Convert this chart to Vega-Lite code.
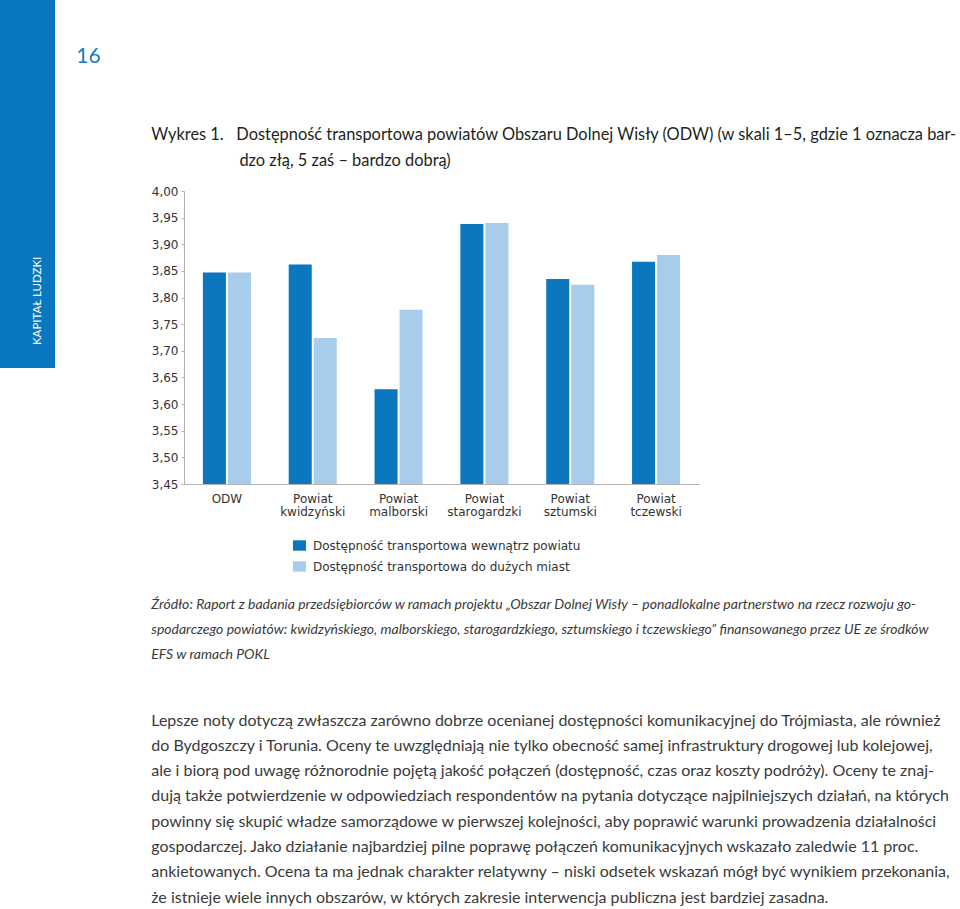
{
  "$schema": "https://vega.github.io/schema/vega-lite/v6.json",
  "padding": 0,
  "background": "#ffffff",
  "config": {
    "view": {"stroke": null},
    "font": "DejaVu Sans"
  },
  "spacing": 50,
  "hconcat": [
    {
      "width": 55,
      "height": 368,
      "view": {"fill": "#0a78c0", "stroke": null},
      "layer": [
        {
          "data": {"values": [{"sekcja": "KAPITAŁ LUDZKI"}]},
          "mark": {"type": "text", "angle": 270, "align": "left", "baseline": "middle", "dx": -161, "dy": 10.5, "color": "#ffffff", "font": "Lato", "fontSize": 11.5},
          "encoding": {"text": {"field": "sekcja", "type": "nominal"}}
        },
        {
          "data": {"values": [{"strona": "16"}]},
          "mark": {"type": "text", "align": "center", "baseline": "middle", "dx": 61, "dy": -127, "color": "#1a7bc0", "font": "Lato", "fontSize": 21},
          "encoding": {"text": {"field": "strona", "type": "nominal"}}
        }
      ]
    },
    {
      "spacing": 0,
      "title": {
        "text": [
          "Źródło: Raport z badania przedsiębiorców w ramach projektu „Obszar Dolnej Wisły – ponadlokalne partnerstwo na rzecz rozwoju go-",
          "spodarczego powiatów: kwidzyńskiego, malborskiego, starogardzkiego, sztumskiego i tczewskiego” finansowanego przez UE ze środków",
          "EFS w ramach POKL"
        ],
        "subtitle": [
          "Lepsze noty dotyczą zwłaszcza zarówno dobrze ocenianej dostępności komunikacyjnej do Trójmiasta, ale również",
          "do Bydgoszczy i Torunia. Oceny te uwzględniają nie tylko obecność samej infrastruktury drogowej lub kolejowej,",
          "ale i biorą pod uwagę różnorodnie pojętą jakość połączeń (dostępność, czas oraz koszty podróży). Oceny te znaj-",
          "dują także potwierdzenie w odpowiedziach respondentów na pytania dotyczące najpilniejszych działań, na których",
          "powinny się skupić władze samorządowe w pierwszej kolejności, aby poprawić warunki prowadzenia działalności",
          "gospodarczej. Jako działanie najbardziej pilne poprawę połączeń komunikacyjnych wskazało zaledwie 11 proc.",
          "ankietowanych. Ocena ta ma jednak charakter relatywny – niski odsetek wskazań mógł być wynikiem przekonania,",
          "że istnieje wiele innych obszarów, w których zakresie interwencja publiczna jest bardziej zasadna."
        ],
        "orient": "bottom",
        "anchor": "start",
        "font": "Lato",
        "fontSize": 14,
        "fontStyle": "italic",
        "fontWeight": "normal",
        "color": "#3a3a3a",
        "lineHeight": 25,
        "subtitleFont": "Lato",
        "subtitleFontSize": 16,
        "subtitleColor": "#3a3a3a",
        "subtitleLineHeight": 25.3,
        "subtitlePadding": 51,
        "offset": 80
      },
      "vconcat": [
        {
          "width": 1,
          "height": 126,
          "data": {"values": []},
          "mark": "text",
          "encoding": {}
        },
        {
          "width": 515,
          "height": 293,
          "title": {
            "text": [
              "Wykres 1.\u00a0\u00a0\u00a0Dostępność transportowa powiatów Obszaru Dolnej Wisły (ODW) (w skali 1–5, gdzie 1 oznacza bar-",
              "\u200b\u00a0\u00a0\u00a0\u00a0\u00a0\u00a0\u00a0\u00a0\u00a0\u00a0\u00a0\u00a0\u00a0\u00a0\u00a0\u00a0\u00a0\u00a0\u00a0\u00a0\u00a0dzo złą, 5 zaś – bardzo dobrą)"
            ],
            "anchor": "start",
            "font": "Lato",
            "fontSize": 16.4,
            "fontWeight": "normal",
            "color": "#231f20",
            "lineHeight": 26,
            "offset": 16
          },
          "data": {
            "values": [
              {"powiat": "ODW", "typ": "Dostępność transportowa wewnątrz powiatu", "ocena": 3.847},
              {"powiat": "ODW", "typ": "Dostępność transportowa do dużych miast", "ocena": 3.847},
              {"powiat": "Powiat kwidzyński", "typ": "Dostępność transportowa wewnątrz powiatu", "ocena": 3.862},
              {"powiat": "Powiat kwidzyński", "typ": "Dostępność transportowa do dużych miast", "ocena": 3.724},
              {"powiat": "Powiat malborski", "typ": "Dostępność transportowa wewnątrz powiatu", "ocena": 3.628},
              {"powiat": "Powiat malborski", "typ": "Dostępność transportowa do dużych miast", "ocena": 3.777},
              {"powiat": "Powiat starogardzki", "typ": "Dostępność transportowa wewnątrz powiatu", "ocena": 3.938},
              {"powiat": "Powiat starogardzki", "typ": "Dostępność transportowa do dużych miast", "ocena": 3.940},
              {"powiat": "Powiat sztumski", "typ": "Dostępność transportowa wewnątrz powiatu", "ocena": 3.835},
              {"powiat": "Powiat sztumski", "typ": "Dostępność transportowa do dużych miast", "ocena": 3.824},
              {"powiat": "Powiat tczewski", "typ": "Dostępność transportowa wewnątrz powiatu", "ocena": 3.867},
              {"powiat": "Powiat tczewski", "typ": "Dostępność transportowa do dużych miast", "ocena": 3.880}
            ]
          },
          "mark": {"type": "bar"},
          "encoding": {
            "x": {
              "field": "powiat",
              "type": "nominal",
              "sort": null,
              "scale": {"paddingInner": 0.44, "paddingOuter": 0.22},
              "axis": {
                "title": null,
                "ticks": false,
                "domainColor": "#b3b3b3",
                "labelAngle": 0,
                "labelFont": "DejaVu Sans",
                "labelFontSize": 12,
                "labelColor": "#333333",
                "labelExpr": "split(datum.label, ' ')",
                "labelLineHeight": 13.5,
                "labelBaseline": "middle",
                "labelPadding": 14
              }
            },
            "xOffset": {
              "field": "typ",
              "type": "nominal",
              "sort": ["Dostępność transportowa wewnątrz powiatu", "Dostępność transportowa do dużych miast"],
              "scale": {"paddingInner": 0.08, "paddingOuter": 0}
            },
            "y": {
              "field": "ocena",
              "type": "quantitative",
              "scale": {"domain": [3.45, 4.0], "zero": false, "nice": false, "clamp": true},
              "axis": {
                "title": null,
                "grid": false,
                "values": [3.45, 3.5, 3.55, 3.6, 3.65, 3.7, 3.75, 3.8, 3.85, 3.9, 3.95, 4.0],
                "labelExpr": "replace(format(datum.value, '.2f'), '.', ',')",
                "domainColor": "#b3b3b3",
                "tickColor": "#b3b3b3",
                "tickSize": 3,
                "labelPadding": 3,
                "labelFont": "DejaVu Sans",
                "labelFontSize": 12,
                "labelColor": "#333333"
              }
            },
            "color": {
              "field": "typ",
              "type": "nominal",
              "scale": {
                "domain": ["Dostępność transportowa wewnątrz powiatu", "Dostępność transportowa do dużych miast"],
                "range": ["#0a77be", "#a8cdec"]
              },
              "legend": {
                "title": null,
                "orient": "none",
                "legendX": 293,
                "legendY": 539,
                "symbolType": "M-1,-0.8H1V0.8H-1Z",
                "symbolSize": 169,
                "symbolStrokeWidth": 0,
                "labelFont": "DejaVu Sans",
                "labelFontSize": 12,
                "labelColor": "#333333",
                "labelLimit": 400,
                "labelOffset": 7,
                "rowPadding": 8
              }
            }
          }
        }
      ]
    }
  ]
}
